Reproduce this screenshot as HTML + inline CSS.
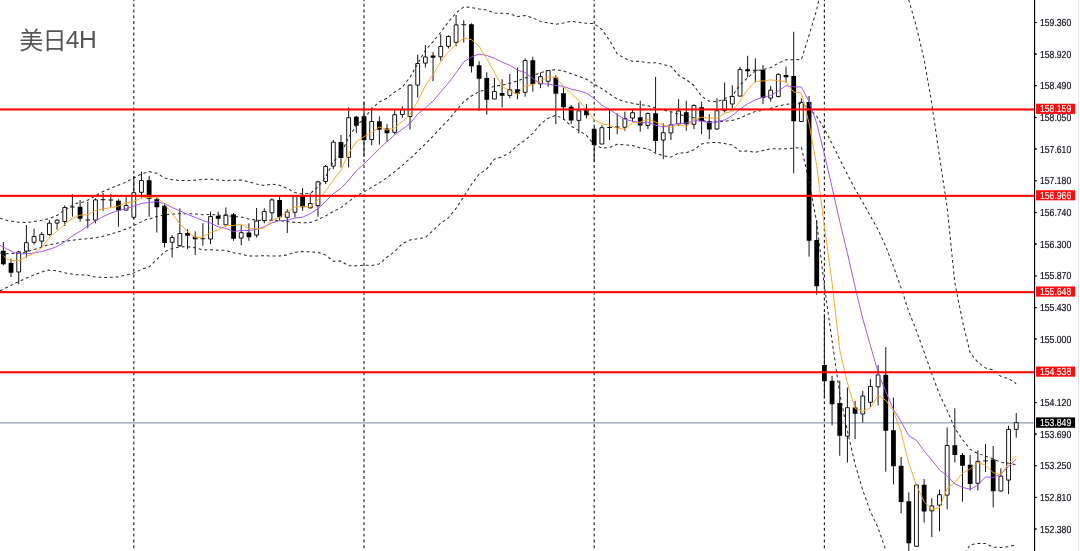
<!DOCTYPE html>
<html lang="zh">
<head>
<meta charset="utf-8">
<title>美日4H</title>
<style>
html,body{margin:0;padding:0;background:#fff;overflow:hidden}
svg{display:block}
</style>
</head>
<body>
<svg width="1080" height="551" viewBox="0 0 1080 551" role="img" aria-label="美日4H">
<rect width="1080" height="551" fill="#fff"/>
<rect x="1078" y="0" width="1.1" height="551" fill="#e6e6e6"/>
<g stroke="#222" stroke-width="1.15" stroke-dasharray="2.9 2.86" stroke-dashoffset="1.96" fill="none">
<path d="M133.80 0V551"/>
<path d="M364.00 0V551"/>
<path d="M594.20 0V551"/>
<path d="M824.39 0V551"/>
</g>
<path d="M0 422.8H1034" stroke="#8f9db0" stroke-width="1.35" fill="none"/>
<path d="M3.36 242.0V265.3M11.03 258.7V277.0M18.71 250.8V284.2M26.38 225.0V257.5M34.05 228.7V244.7M41.73 232.0V247.5M49.40 220.0V235.8M57.07 219.2V229.7M64.75 205.4V226.0M72.42 194.2V216.7M70.02 207.0H74.82M80.09 200.0V221.7M87.77 201.7V228.3M85.37 220.0H90.17M95.44 198.3V223.3M103.11 193.0V210.8M100.71 199.7H105.51M110.78 194.2V207.5M108.38 200.0H113.18M118.46 199.2V226.7M126.13 196.7V210.3M133.80 175.8V219.2M141.48 171.7V198.3M149.15 175.8V216.7M156.82 197.5V232.5M164.50 203.3V247.5M172.17 235.0V257.5M179.84 208.3V247.0M187.52 229.2V249.2M195.19 231.3V255.0M202.86 223.3V245.8M200.46 238.7H205.26M210.54 211.7V244.2M218.21 211.7V225.0M225.88 207.5V226.5M233.56 213.0V240.8M241.23 225.0V245.3M248.90 223.3V240.8M256.58 208.0V237.5M264.25 208.3V223.3M271.92 198.3V220.8M279.60 196.7V220.8M287.27 209.2V233.0M294.94 195.0V217.5M302.61 188.0V210.8M310.29 193.3V208.7M317.96 180.8V216.7M325.63 165.0V184.2M333.31 140.0V169.2M340.98 135.0V167.5M348.65 107.5V167.5M356.33 115.8V133.3M364.00 101.7V156.7M371.67 107.5V145.3M379.35 116.3V144.7M387.02 124.2V141.7M394.69 110.0V134.2M402.37 106.3V117.8M410.04 84.2V129.5M417.71 54.7V97.5M425.39 45.0V67.5M433.06 52.0V81.3M440.73 34.2V60.8M448.41 35.3V48.5M456.08 15.0V46.3M463.75 20.3V42.5M461.35 24.7H466.15M471.43 23.3V72.5M479.10 61.3V110.8M486.77 72.3V114.7M494.44 78.0V99.2M502.12 79.2V107.5M509.79 74.0V98.3M517.46 67.5V99.2M525.14 58.5V96.7M532.81 56.7V91.7M540.48 72.5V88.3M548.16 70.0V86.7M555.83 75.0V124.2M563.50 87.5V120.0M571.18 105.0V124.2M578.85 102.5V133.3M586.52 104.2V118.3M594.20 127.5V161.7M601.87 125.0V144.2M609.54 110.0V140.0M607.14 127.5H611.94M617.22 113.3V134.2M614.82 127.0H619.62M624.89 111.7V130.8M632.56 110.0V121.7M640.24 100.8V131.7M647.91 112.5V129.2M655.58 77.0V152.5M663.26 123.3V159.2M670.93 111.7V140.0M678.60 99.2V125.8M686.27 100.8V130.8M693.95 104.2V129.2M701.62 101.7V134.2M709.29 114.2V139.2M716.97 98.2V130.0M724.64 82.5V112.5M732.31 85.3V108.3M739.99 66.7V96.7M747.66 55.8V77.5M755.33 58.3V82.5M752.93 70.3H757.73M763.01 65.0V104.2M770.68 85.8V101.7M778.35 73.3V97.5M786.03 66.7V82.5M793.70 31.7V173.3M801.37 98.3V121.9M809.05 96.0V256.7M816.72 220.0V294.7M824.39 314.2V398.3M832.07 375.8V425.3M839.74 380.8V455.8M847.41 387.5V462.5M855.09 400.8V439.2M862.76 390.8V422.5M870.43 379.2V406.7M878.10 365.0V405.5M885.78 347.0V471.7M893.45 397.5V484.5M901.12 457.0V513.3M908.80 492.3V551.0M916.47 484.0V547.0M924.14 479.0V522.6M931.82 498.2V537.0M939.49 489.5V531.4M947.16 427.5V509.3M954.84 408.3V462.5M962.51 453.0V501.7M970.18 454.8V490.7M977.86 450.3V490.5M985.53 444.1V472.0M983.13 460.9H987.93M993.20 446.0V507.4M1000.88 468.3V491.5M1008.55 425.8V494.1M1016.22 413.0V437.6" stroke="#141414" stroke-width="1" fill="none"/>
<path d="M0.96 250.8h4.8V264.2h-4.8zM8.63 263.0h4.8V272.7h-4.8zM77.69 206.7h4.8V218.8h-4.8zM116.06 200.8h4.8V210.5h-4.8zM146.75 180.3h4.8V198.8h-4.8zM154.42 199.2h4.8V207.2h-4.8zM162.10 205.8h4.8V243.0h-4.8zM185.12 233.0h4.8V235.8h-4.8zM192.79 236.7h4.8V239.2h-4.8zM215.81 215.8h4.8V218.8h-4.8zM231.16 214.2h4.8V238.8h-4.8zM246.50 232.5h4.8V237.2h-4.8zM277.20 200.0h4.8V217.2h-4.8zM300.21 195.0h4.8V207.2h-4.8zM338.58 142.0h4.8V158.0h-4.8zM353.93 116.7h4.8V125.8h-4.8zM361.60 116.3h4.8V140.2h-4.8zM376.95 121.3h4.8V129.7h-4.8zM384.62 128.5h4.8V133.3h-4.8zM430.66 55.6h4.8V57.8h-4.8zM469.03 24.2h4.8V66.3h-4.8zM476.70 65.3h4.8V78.8h-4.8zM484.37 78.0h4.8V99.7h-4.8zM499.72 93.0h4.8V95.8h-4.8zM515.06 89.2h4.8V93.8h-4.8zM530.41 60.3h4.8V84.2h-4.8zM553.43 77.5h4.8V93.8h-4.8zM561.10 93.3h4.8V107.2h-4.8zM568.78 106.7h4.8V120.6h-4.8zM584.12 110.0h4.8V115.2h-4.8zM591.80 128.7h4.8V145.0h-4.8zM637.84 117.3h4.8V125.6h-4.8zM653.18 113.3h4.8V141.0h-4.8zM683.87 112.3h4.8V124.3h-4.8zM699.22 107.3h4.8V121.0h-4.8zM706.89 121.3h4.8V129.4h-4.8zM745.26 69.2h4.8V71.3h-4.8zM760.61 69.7h4.8V98.0h-4.8zM783.63 75.0h4.8V77.2h-4.8zM791.30 76.0h4.8V121.2h-4.8zM806.65 102.0h4.8V240.8h-4.8zM814.32 240.0h4.8V286.3h-4.8zM821.99 365.0h4.8V381.3h-4.8zM829.67 380.8h4.8V404.2h-4.8zM837.34 403.0h4.8V435.8h-4.8zM852.69 407.5h4.8V413.8h-4.8zM883.38 374.7h4.8V430.8h-4.8zM891.05 430.3h4.8V466.3h-4.8zM898.72 465.8h4.8V502.0h-4.8zM906.40 501.2h4.8V543.2h-4.8zM921.74 484.8h4.8V511.5h-4.8zM952.44 445.3h4.8V455.0h-4.8zM960.11 455.0h4.8V465.7h-4.8zM967.78 464.7h4.8V484.1h-4.8zM990.80 459.6h4.8V491.3h-4.8z" fill="#000"/>
<path d="M16.79 251.90h3.84V272.00h-3.84zM24.46 242.70h3.84V251.10h-3.84zM32.13 236.50h3.84V242.30h-3.84zM39.81 234.40h3.84V241.10h-3.84zM47.48 223.20h3.84V234.50h-3.84zM55.15 220.20h3.84V223.10h-3.84zM62.83 207.50h3.84V221.50h-3.84zM93.52 199.90h3.84V220.10h-3.84zM124.21 205.50h3.84V210.10h-3.84zM131.88 192.70h3.84V217.30h-3.84zM139.56 180.50h3.84V192.30h-3.84zM170.25 237.50h3.84V242.30h-3.84zM177.92 233.50h3.84V245.60h-3.84zM208.62 216.50h3.84V239.00h-3.84zM223.96 214.90h3.84V224.80h-3.84zM239.31 232.70h3.84V238.10h-3.84zM254.66 221.00h3.84V235.10h-3.84zM262.33 211.50h3.84V220.60h-3.84zM270.00 199.90h3.84V212.80h-3.84zM285.35 211.90h3.84V217.30h-3.84zM293.02 196.00h3.84V212.30h-3.84zM308.37 203.50h3.84V207.80h-3.84zM316.04 181.90h3.84V205.60h-3.84zM323.71 166.50h3.84V181.50h-3.84zM331.39 142.20h3.84V166.10h-3.84zM346.73 117.70h3.84V157.30h-3.84zM369.75 121.50h3.84V139.50h-3.84zM392.77 114.70h3.84V132.30h-3.84zM400.45 109.70h3.84V114.50h-3.84zM408.12 85.20h3.84V116.50h-3.84zM415.79 63.50h3.84V85.10h-3.84zM423.47 57.00h3.84V63.10h-3.84zM438.81 46.50h3.84V56.80h-3.84zM446.49 36.50h3.84V46.30h-3.84zM454.16 24.90h3.84V42.30h-3.84zM492.52 91.50h3.84V99.00h-3.84zM507.87 89.80h3.84V95.40h-3.84zM523.22 60.50h3.84V92.30h-3.84zM538.56 76.70h3.84V83.80h-3.84zM546.24 70.50h3.84V81.30h-3.84zM576.93 110.80h3.84V120.40h-3.84zM599.95 127.70h3.84V144.00h-3.84zM622.97 118.50h3.84V127.30h-3.84zM630.64 112.70h3.84V118.10h-3.84zM645.99 113.50h3.84V125.40h-3.84zM661.34 132.70h3.84V140.10h-3.84zM669.01 124.90h3.84V132.90h-3.84zM676.68 111.00h3.84V124.00h-3.84zM692.03 105.50h3.84V124.30h-3.84zM715.05 110.70h3.84V129.00h-3.84zM722.72 100.20h3.84V110.60h-3.84zM730.39 96.50h3.84V104.00h-3.84zM738.07 69.40h3.84V96.10h-3.84zM768.76 90.20h3.84V98.10h-3.84zM776.43 74.40h3.84V96.50h-3.84zM799.45 102.40h3.84V121.50h-3.84zM845.49 407.70h3.84V436.10h-3.84zM860.84 396.00h3.84V414.00h-3.84zM868.51 386.50h3.84V402.30h-3.84zM876.18 374.90h3.84V386.80h-3.84zM914.55 485.00h3.84V546.30h-3.84zM929.90 505.90h3.84V510.80h-3.84zM937.57 494.70h3.84V505.10h-3.84zM945.24 445.50h3.84V495.10h-3.84zM975.94 461.40h3.84V483.30h-3.84zM998.96 476.20h3.84V491.00h-3.84zM1006.63 429.40h3.84V480.10h-3.84zM1014.30 422.70h3.84V429.40h-3.84z" fill="#fff" stroke="#0a0a0a" stroke-width="0.96"/>
<g stroke="#262626" stroke-width="1.02" stroke-dasharray="2.9 2.85" fill="none" stroke-linejoin="round">
<path d="M0.0 218.3 L8.3 220.8 L16.7 222.0 L25.0 222.5 L33.3 221.7 L41.7 220.3 L50.0 218.3 L58.3 214.7 L63.3 210.8 L70.0 206.7 L75.0 203.7 L83.3 202.0 L90.0 199.2 L100.0 193.0 L108.3 189.2 L116.7 185.8 L125.0 182.5 L133.3 178.3 L141.7 173.7 L149.2 171.6 L156.8 173.2 L164.5 178.0 L172.2 179.7 L179.8 180.5 L187.5 180.6 L195.2 180.2 L202.9 179.4 L210.5 179.3 L218.2 180.0 L225.9 180.6 L233.6 180.2 L241.2 180.1 L248.9 181.9 L256.6 184.1 L264.2 185.6 L271.9 184.1 L279.6 185.3 L287.3 188.4 L294.9 192.5 L302.6 194.0 L310.3 193.4 L318.0 186.9 L325.6 177.0 L333.3 161.7 L341.0 154.0 L348.7 137.1 L356.3 125.9 L364.0 118.8 L371.7 108.9 L379.3 101.9 L387.0 98.2 L394.7 91.9 L402.4 87.1 L410.0 77.2 L417.7 63.7 L425.4 50.4 L433.1 41.6 L440.7 32.3 L448.4 21.8 L456.1 12.9 L463.8 6.9 L471.4 7.5 L479.1 9.0 L486.8 10.0 L494.4 13.1 L502.1 13.3 L509.8 13.9 L517.5 16.4 L525.1 15.6 L532.8 17.9 L540.5 21.4 L548.2 22.9 L555.8 24.3 L563.5 22.9 L571.2 21.3 L578.9 22.3 L586.5 23.3 L594.2 23.6 L601.9 29.5 L609.5 40.2 L617.2 53.9 L624.9 58.4 L632.6 61.2 L640.2 61.4 L647.9 62.8 L655.6 62.7 L663.3 64.5 L670.9 66.2 L678.6 75.3 L686.3 79.7 L693.9 85.5 L701.6 96.4 L709.3 101.2 L717.0 101.8 L724.6 98.6 L732.3 95.8 L740.0 84.9 L747.7 77.8 L755.3 70.8 L763.0 69.6 L770.7 67.6 L778.4 63.1 L786.0 59.7 L793.7 59.8 L801.4 59.5 L809.0 35.5 L816.7 9.9 L824.4 -28.1 L832.1 -53.6 L839.7 -75.2 L847.4 -82.1 L855.1 -86.4 L862.8 -85.7 L870.4 -79.3 L878.1 -68.3 L885.8 -57.2 L893.5 -40.3 L901.1 -21.4 L908.8 0.1 L916.5 27.0 L924.1 59.6 L931.8 103.5 L939.5 156.6 L947.2 207.9 L954.8 282.6 L962.5 321.4 L970.2 353.1 L977.9 362.3 L985.5 367.9 L993.2 370.0 L1000.9 376.4 L1008.5 378.6 L1016.2 383.5"/>
<path d="M0.0 253.0 L5.8 253.7 L21.7 253.3 L30.0 250.8 L38.3 248.3 L46.7 245.3 L55.0 243.7 L63.3 241.7 L71.7 240.3 L80.0 239.2 L88.3 238.7 L96.7 237.5 L105.0 235.8 L113.3 233.3 L121.7 230.8 L130.0 227.5 L138.3 223.3 L146.7 219.2 L149.2 219.2 L156.8 216.4 L164.5 214.9 L172.2 214.2 L179.8 213.7 L187.5 213.7 L195.2 213.9 L202.9 214.7 L210.5 214.5 L218.2 215.1 L225.9 215.5 L233.6 216.5 L241.2 217.1 L248.9 219.0 L256.6 220.1 L264.2 220.6 L271.9 220.1 L279.6 220.7 L287.3 221.6 L294.9 222.4 L302.6 222.8 L310.3 222.6 L318.0 219.6 L325.6 216.0 L333.3 211.4 L341.0 207.6 L348.7 201.5 L356.3 195.8 L364.0 192.0 L371.7 187.2 L379.3 182.9 L387.0 177.6 L394.7 171.7 L402.4 165.3 L410.0 158.6 L417.7 151.2 L425.4 144.0 L433.1 136.0 L440.7 127.8 L448.4 119.8 L456.1 110.7 L463.8 101.7 L471.4 96.0 L479.1 91.6 L486.8 89.5 L494.4 86.1 L502.1 85.1 L509.8 83.2 L517.5 80.9 L525.1 77.9 L532.8 75.6 L540.5 72.8 L548.2 70.5 L555.8 69.8 L563.5 70.9 L571.2 73.7 L578.9 76.4 L586.5 79.3 L594.2 84.2 L601.9 88.8 L609.5 93.9 L617.2 99.0 L624.9 101.7 L632.6 103.3 L640.2 104.6 L647.9 105.7 L655.6 108.0 L663.3 110.1 L670.9 111.7 L678.6 114.2 L686.3 116.2 L693.9 117.7 L701.6 120.2 L709.3 122.0 L717.0 122.1 L724.6 121.1 L732.3 120.4 L740.0 118.1 L747.7 114.4 L755.3 111.5 L763.0 110.1 L770.7 108.2 L778.4 106.0 L786.0 104.2 L793.7 104.0 L801.4 103.5 L809.0 108.5 L816.7 116.2 L824.4 129.0 L832.1 143.7 L839.7 159.2 L847.4 174.3 L855.1 189.0 L862.8 202.3 L870.4 216.1 L878.1 229.8 L885.8 246.5 L893.5 266.4 L901.1 287.9 L908.8 311.6 L916.5 330.9 L924.1 352.0 L931.8 373.6 L939.5 394.4 L947.2 410.6 L954.8 428.3 L962.5 439.5 L970.2 449.4 L977.9 453.4 L985.5 456.2 L993.2 459.0 L1000.9 462.4 L1008.5 463.2 L1016.2 464.6"/>
<path d="M0.0 290.8 L8.3 286.7 L16.7 282.5 L25.0 278.7 L33.3 275.3 L41.7 272.0 L48.3 270.0 L56.7 270.8 L66.7 273.3 L75.0 274.7 L86.7 275.0 L95.0 277.0 L106.7 277.5 L116.7 277.0 L125.0 275.3 L133.3 273.3 L141.7 269.2 L149.2 266.9 L156.8 259.5 L164.5 251.8 L172.2 248.6 L179.8 246.9 L187.5 246.8 L195.2 247.7 L202.9 250.0 L210.5 249.7 L218.2 250.2 L225.9 250.4 L233.6 252.8 L241.2 254.1 L248.9 256.1 L256.6 256.0 L264.2 255.7 L271.9 256.1 L279.6 256.0 L287.3 254.9 L294.9 252.3 L302.6 251.6 L310.3 251.9 L318.0 252.3 L325.6 255.1 L333.3 261.2 L341.0 261.1 L348.7 265.8 L356.3 265.7 L364.0 265.2 L371.7 265.4 L379.3 263.9 L387.0 257.1 L394.7 251.5 L402.4 243.6 L410.0 239.9 L417.7 238.6 L425.4 237.6 L433.1 230.5 L440.7 223.2 L448.4 217.8 L456.1 208.4 L463.8 196.6 L471.4 184.5 L479.1 174.2 L486.8 168.9 L494.4 159.2 L502.1 156.8 L509.8 152.6 L517.5 145.4 L525.1 140.2 L532.8 133.3 L540.5 124.1 L548.2 118.2 L555.8 115.2 L563.5 118.8 L571.2 126.2 L578.9 130.6 L586.5 135.3 L594.2 144.9 L601.9 148.0 L609.5 147.6 L617.2 144.2 L624.9 144.9 L632.6 145.5 L640.2 147.9 L647.9 148.7 L655.6 153.3 L663.3 155.8 L670.9 157.1 L678.6 153.1 L686.3 152.8 L693.9 149.8 L701.6 143.9 L709.3 142.7 L717.0 142.4 L724.6 143.6 L732.3 145.0 L740.0 151.3 L747.7 151.0 L755.3 152.3 L763.0 150.6 L770.7 148.8 L778.4 148.9 L786.0 148.8 L793.7 148.2 L801.4 147.4 L809.0 181.4 L816.7 222.4 L824.4 286.1 L832.1 340.9 L839.7 393.6 L847.4 430.8 L855.1 464.3 L862.8 490.3 L870.4 511.5 L878.1 527.9 L885.8 550.3 L893.5 573.1 L901.1 597.2 L908.8 623.0 L916.5 634.9 L924.1 644.4 L931.8 643.6 L939.5 631.9 L947.2 612.7 L954.8 572.9 L962.5 556.7 L970.2 544.7 L977.9 543.5 L985.5 543.6 L993.2 547.1 L1000.9 547.5 L1008.5 546.8 L1016.2 544.6"/>
</g>
<path d="M0.0 245.2 L6.7 248.9 L14.4 252.6 L22.2 253.9 L31.1 253.4 L41.7 251.6 L50.0 249.0 L55.5 247.2 L62.0 243.6 L66.7 240.2 L72.4 235.9 L80.1 231.3 L87.8 226.1 L95.4 220.9 L103.1 216.6 L110.8 213.0 L118.5 210.6 L126.1 208.8 L133.8 206.1 L141.5 203.4 L149.2 202.6 L156.8 201.4 L164.5 203.7 L172.2 207.5 L179.8 210.8 L187.5 214.4 L195.2 217.3 L202.9 220.6 L210.5 223.0 L218.2 226.8 L225.9 228.4 L233.6 231.6 L241.2 230.5 L248.9 230.5 L256.6 229.3 L264.2 226.8 L271.9 222.9 L279.6 220.7 L287.3 220.3 L294.9 218.0 L302.6 217.2 L310.3 213.7 L318.0 208.6 L325.6 201.5 L333.3 193.6 L341.0 188.3 L348.7 180.1 L356.3 170.9 L364.0 163.8 L371.7 156.3 L379.3 148.6 L387.0 141.6 L394.7 134.9 L402.4 129.2 L410.0 123.5 L417.7 114.0 L425.4 107.9 L433.1 101.1 L440.7 91.8 L448.4 83.2 L456.1 72.8 L463.8 61.9 L471.4 57.1 L479.1 54.0 L486.8 55.5 L494.4 58.3 L502.1 62.2 L509.8 65.3 L517.5 70.1 L525.1 72.5 L532.8 78.5 L540.5 83.6 L548.2 84.0 L555.8 85.5 L563.5 86.3 L571.2 89.2 L578.9 90.7 L586.5 93.2 L594.2 98.4 L601.9 105.1 L609.5 109.4 L617.2 114.5 L624.9 119.3 L632.6 121.1 L640.2 123.0 L647.9 122.2 L655.6 125.3 L663.3 127.0 L670.9 125.0 L678.6 123.3 L686.3 123.0 L693.9 120.8 L701.6 121.1 L709.3 122.8 L717.0 121.3 L724.6 120.0 L732.3 115.5 L740.0 109.2 L747.7 103.8 L755.3 99.8 L763.0 97.1 L770.7 95.6 L778.4 90.9 L786.0 85.7 L793.7 86.8 L801.4 87.0 L809.0 101.4 L816.7 123.2 L824.4 154.2 L832.1 187.5 L839.7 221.3 L847.4 253.1 L855.1 287.0 L862.8 318.9 L870.4 345.4 L878.1 372.6 L885.8 391.6 L893.5 409.6 L901.1 421.7 L908.8 435.6 L916.5 440.5 L924.1 450.9 L931.8 460.1 L939.5 470.0 L947.2 475.9 L954.8 483.9 L962.5 487.4 L970.2 489.2 L977.9 485.1 L985.5 476.9 L993.2 477.5 L1000.9 474.0 L1008.5 466.3 L1016.2 459.1" stroke="#9c50f0" stroke-width="0.95" fill="none" stroke-linejoin="round"/>
<path d="M3.3 255.5 L6.7 258.9 L11.1 260.5 L17.8 260.8 L22.2 258.9 L26.7 256.1 L34.1 253.5 L41.7 247.5 L49.4 237.5 L57.1 231.2 L64.7 224.2 L72.4 218.3 L80.1 215.2 L87.8 214.6 L95.4 210.6 L103.1 209.0 L110.8 207.6 L118.5 206.0 L126.1 203.0 L133.8 201.6 L141.5 197.7 L149.2 197.5 L156.8 196.8 L164.5 204.4 L172.2 213.3 L179.8 223.9 L187.5 231.3 L195.2 237.7 L202.9 236.9 L210.5 232.7 L218.2 229.8 L225.9 225.5 L233.6 225.5 L241.2 224.2 L248.9 228.4 L256.6 228.8 L264.2 228.1 L271.9 220.3 L279.6 217.2 L287.3 212.1 L294.9 207.1 L302.6 206.3 L310.3 207.0 L318.0 199.9 L325.6 190.9 L333.3 180.1 L341.0 170.3 L348.7 153.1 L356.3 141.9 L364.0 136.7 L371.7 132.6 L379.3 126.9 L387.0 130.1 L394.7 127.8 L402.4 121.7 L410.0 114.4 L417.7 101.1 L425.4 85.8 L433.1 74.5 L440.7 61.8 L448.4 52.1 L456.1 44.4 L463.8 38.0 L471.4 39.7 L479.1 46.2 L486.8 58.8 L494.4 72.2 L502.1 86.4 L509.8 91.0 L517.5 94.0 L525.1 86.2 L532.8 84.7 L540.5 80.9 L548.2 77.0 L555.8 77.0 L563.5 86.4 L571.2 93.7 L578.9 100.5 L586.5 109.5 L594.2 119.7 L601.9 123.8 L609.5 125.2 L617.2 128.4 L624.9 129.1 L632.6 122.6 L640.2 122.2 L647.9 119.3 L655.6 122.1 L663.3 125.0 L670.9 127.4 L678.6 124.5 L686.3 126.7 L693.9 119.5 L701.6 117.2 L709.3 118.2 L717.0 118.1 L724.6 113.2 L732.3 111.4 L740.0 101.1 L747.7 89.5 L755.3 81.4 L763.0 81.0 L770.7 79.8 L778.4 80.8 L786.0 81.9 L793.7 92.1 L801.4 93.0 L809.0 123.1 L816.7 165.5 L824.4 226.4 L832.1 283.0 L839.7 349.7 L847.4 383.0 L855.1 408.5 L862.8 411.4 L870.4 407.8 L878.1 395.6 L885.8 400.3 L893.5 410.8 L901.1 432.0 L908.8 463.4 L916.5 485.4 L924.1 501.6 L931.8 509.4 L939.5 507.9 L947.2 488.4 L954.8 482.4 L962.5 473.2 L970.2 468.9 L977.9 462.3 L985.5 465.4 L993.2 472.6 L1000.9 474.7 L1008.5 463.7 L1016.2 456.0" stroke="#ffa520" stroke-width="0.95" fill="none" stroke-linejoin="round"/>
<rect x="0" y="108.40" width="1035" height="2.1" fill="#ff0808"/>
<rect x="0" y="194.80" width="1035" height="2.1" fill="#ff0808"/>
<rect x="0" y="291.10" width="1035" height="2.1" fill="#ff0808"/>
<rect x="0" y="371.20" width="1035" height="2.1" fill="#ff0808"/>
<rect x="1034" y="0" width="1.15" height="551" fill="#000"/>
<g font-family="'Liberation Sans', sans-serif" font-size="10.2" text-rendering="geometricPrecision" fill="#101018" stroke="#101018" stroke-width="0.2">
<rect x="1035" y="22.0" width="1.8" height="1" fill="#000"/>
<text x="1040" y="25.9" textLength="31.2" lengthAdjust="spacingAndGlyphs">159.360</text>
<rect x="1035" y="53.8" width="1.8" height="1" fill="#000"/>
<text x="1040" y="57.7" textLength="31.2" lengthAdjust="spacingAndGlyphs">158.920</text>
<rect x="1035" y="85.2" width="1.8" height="1" fill="#000"/>
<text x="1040" y="89.1" textLength="31.2" lengthAdjust="spacingAndGlyphs">158.490</text>
<rect x="1035" y="117.0" width="1.8" height="1" fill="#000"/>
<text x="1040" y="120.9" textLength="31.2" lengthAdjust="spacingAndGlyphs">158.050</text>
<rect x="1035" y="148.7" width="1.8" height="1" fill="#000"/>
<text x="1040" y="152.6" textLength="31.2" lengthAdjust="spacingAndGlyphs">157.610</text>
<rect x="1035" y="180.3" width="1.8" height="1" fill="#000"/>
<text x="1040" y="184.2" textLength="31.2" lengthAdjust="spacingAndGlyphs">157.180</text>
<rect x="1035" y="212.1" width="1.8" height="1" fill="#000"/>
<text x="1040" y="216.0" textLength="31.2" lengthAdjust="spacingAndGlyphs">156.740</text>
<rect x="1035" y="243.8" width="1.8" height="1" fill="#000"/>
<text x="1040" y="247.7" textLength="31.2" lengthAdjust="spacingAndGlyphs">156.300</text>
<rect x="1035" y="275.5" width="1.8" height="1" fill="#000"/>
<text x="1040" y="279.4" textLength="31.2" lengthAdjust="spacingAndGlyphs">155.870</text>
<rect x="1035" y="307.1" width="1.8" height="1" fill="#000"/>
<text x="1040" y="311.0" textLength="31.2" lengthAdjust="spacingAndGlyphs">155.430</text>
<rect x="1035" y="338.7" width="1.8" height="1" fill="#000"/>
<text x="1040" y="342.6" textLength="31.2" lengthAdjust="spacingAndGlyphs">155.000</text>
<rect x="1035" y="402.1" width="1.8" height="1" fill="#000"/>
<text x="1040" y="406.0" textLength="31.2" lengthAdjust="spacingAndGlyphs">154.120</text>
<rect x="1035" y="433.8" width="1.8" height="1" fill="#000"/>
<text x="1040" y="437.7" textLength="31.2" lengthAdjust="spacingAndGlyphs">153.690</text>
<rect x="1035" y="465.2" width="1.8" height="1" fill="#000"/>
<text x="1040" y="469.1" textLength="31.2" lengthAdjust="spacingAndGlyphs">153.250</text>
<rect x="1035" y="496.9" width="1.8" height="1" fill="#000"/>
<text x="1040" y="500.8" textLength="31.2" lengthAdjust="spacingAndGlyphs">152.810</text>
<rect x="1035" y="528.6" width="1.8" height="1" fill="#000"/>
<text x="1040" y="532.5" textLength="31.2" lengthAdjust="spacingAndGlyphs">152.380</text>
</g>
<g font-family="'Liberation Sans', sans-serif" font-size="10.2" text-rendering="geometricPrecision" fill="#fff" stroke="#fff" stroke-width="0.15">
<rect x="1036" y="103.7" width="39.1" height="10.3" fill="#ff0a0a"/>
<text x="1040" y="112.3" textLength="31.2" lengthAdjust="spacingAndGlyphs">158.159</text>
<rect x="1036" y="190.1" width="39.1" height="10.3" fill="#ff0a0a"/>
<text x="1040" y="198.7" textLength="31.2" lengthAdjust="spacingAndGlyphs">156.966</text>
<rect x="1036" y="286.4" width="39.1" height="10.3" fill="#ff0a0a"/>
<text x="1040" y="295.0" textLength="31.2" lengthAdjust="spacingAndGlyphs">155.648</text>
<rect x="1036" y="366.5" width="39.1" height="10.3" fill="#ff0a0a"/>
<text x="1040" y="375.1" textLength="31.2" lengthAdjust="spacingAndGlyphs">154.538</text>
<rect x="1036" y="417.3" width="39.1" height="10.6" fill="#000"/>
<text x="1040" y="426.0" textLength="31.2" lengthAdjust="spacingAndGlyphs">153.849</text>
</g>
<text x="19.2" y="48.7" font-family="'Liberation Sans', 'Noto Sans CJK SC', sans-serif" font-size="24.2" letter-spacing="-0.9" fill="#555">美日<tspan dy="-0.6" font-size="24.6" letter-spacing="-0.4">4H</tspan></text>
</svg>
</body>
</html>
